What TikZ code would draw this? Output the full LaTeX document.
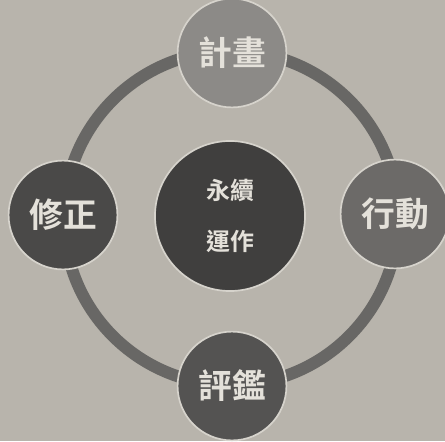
\documentclass[tikz,border=0pt]{standalone}
\usepackage{fontspec}
\newfontfamily\cjk{Noto Sans CJK TC}[BoldFont={* Bold}]
\usepackage{tikz}
\usetikzlibrary{calc}
\definecolor{bg}{RGB}{184,180,172}
\definecolor{ring}{RGB}{104,103,101}
\definecolor{rim}{RGB}{214,211,204}
\definecolor{txt}{RGB}{228,225,218}
\definecolor{planc}{RGB}{140,138,135}
\definecolor{actc}{RGB}{108,106,104}
\definecolor{evalc}{RGB}{84,83,82}
\definecolor{fixc}{RGB}{74,73,72}
\definecolor{midc}{RGB}{64,63,62}

\begin{document}
\begin{tikzpicture}[x=0.025cm,y=-0.025cm,
	stage/.style={circle,draw=rim,line width=1.2pt,minimum size=2.72cm,inner sep=0pt,
		text=txt,font=\cjk\bfseries\fontsize{24}{26}\selectfont},
	core/.style={circle,draw=rim,line width=1.2pt,minimum size=3.75cm,inner sep=0pt,fill=midc,
		text=txt,font=\cjk\bfseries\fontsize{17}{36}\selectfont,align=center}]
	\fill[bg] (0,0) rectangle (445,441);
	\useasboundingbox (0,0) rectangle (445,441);
\draw[ring,line width=12*0.025cm] (231,218) circle (167);
\node[core] (mid) at (230,216) {永續\\運作};
	\node[stage,fill=planc] (plan) at (232,53) {計畫};
	\node[stage,fill=actc] (act) at (395,214) {行動};
	\node[stage,fill=evalc] (eval) at (232,386) {評鑑};
	\node[stage,fill=fixc] (fix) at (63,215) {修正};
\end{tikzpicture}
\end{document}
